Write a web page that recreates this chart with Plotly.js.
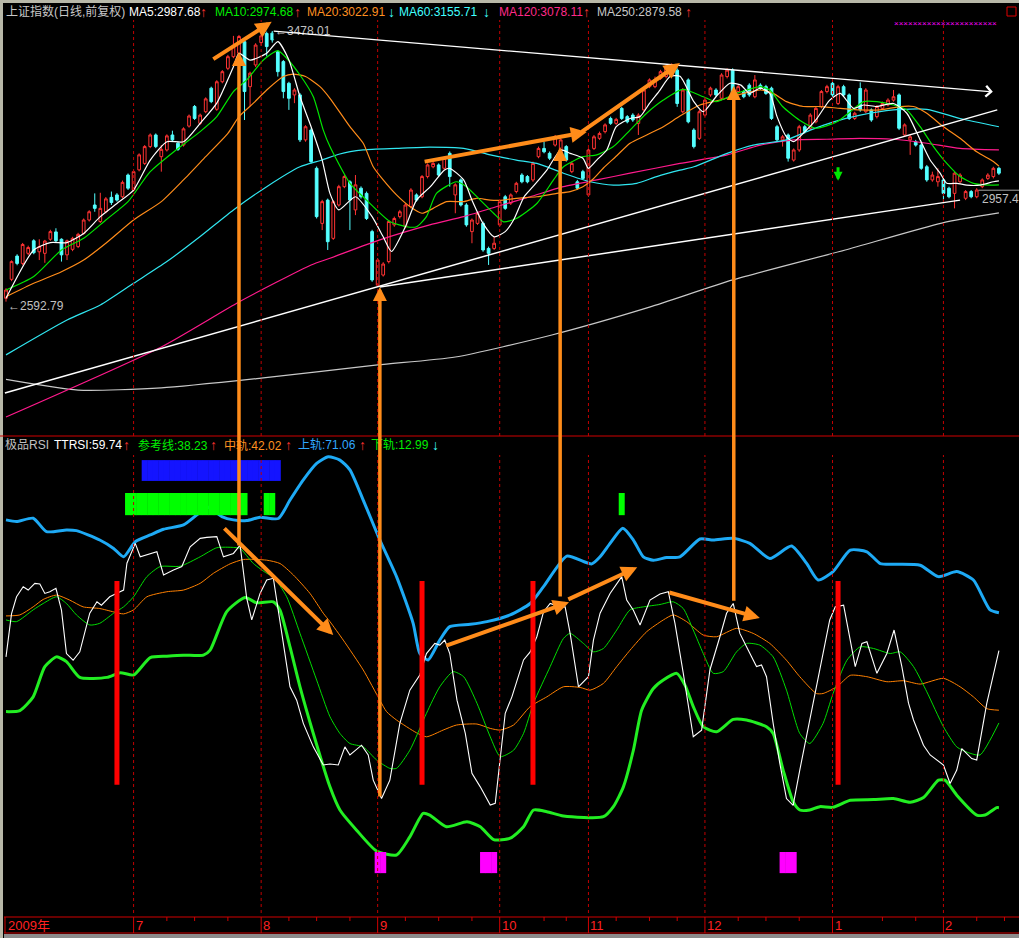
<!DOCTYPE html>
<html><head><meta charset="utf-8">
<script src="https://cdn.plot.ly/plotly-3.0.1.min.js"></script>
<style>html,body{margin:0;padding:0;background:#000;}#chart{width:1019px;height:938px;}</style>
</head><body><div id="chart"></div>
<script>
// ---------- candles (上证指数 daily, index 0 = first bar shown) ----------
const openP = [2604,2666,2742,2718,2751,2792,2756,2751,2797,2821,
2797,2746,2764,2773,2816,2860,2909,2855,2887,2934,
2942,2936,3007,2958,3024,3045,3100,3138,3067,3089,
3138,3111,3105,3167,3231,3176,3214,3291,3222,3312,
3356,3394,3405,3443,3296,3367,3440,3470,3471,3410,
3378,3307,3269,3269,3122,3154,3029,2849,2925,2800,
2909,2969,2985,2893,2964,2947,2822,2647,2680,2724,
2844,2871,2838,2904,2942,2936,3002,3034,3040,3029,
3078,2942,2991,2909,2822,2849,2849,2767,2767,2844,
2936,2915,2953,3007,3002,2991,3067,3094,3078,3105,
3073,3100,3018,2985,3018,2942,3094,3127,3149,3192,
3176,3225,3198,3203,3176,3220,3296,3296,3323,3329,
3334,3350,3214,3318,3154,3127,3203,3269,3285,3258,
3329,3350,3280,3280,3301,3263,3301,3296,3291,3165,
3122,3138,3056,3089,3165,3160,3181,3231,3280,3307,
3241,3296,3269,3192,3290,3214,3220,3198,3225,3236,
3252,3269,3138,3122,3116,3105,3034,2991,2985,2991,
2964,2947,2985,2931,2953,2936,2969,2996,3002,3029];
const highP = [2637,2728,2748,2785,2776,2797,2797,2795,2828,2833,
2800,2796,2805,2818,2865,2892,2947,2949,2935,2953,
2948,2989,3012,3023,3078,3105,3143,3143,3105,3140,
3152,3116,3163,3205,3236,3208,3261,3296,3317,3350,
3400,3462,3465,3450,3345,3438,3468,3476,3478,3415,
3383,3312,3291,3275,3170,3160,3035,2926,2930,2925,
2975,3007,2990,3007,2970,2953,2828,2735,2722,2860,
2871,2893,2915,2964,2947,3007,3045,3051,3045,3067,
3084,2980,2996,2915,2865,2887,2855,2773,2805,2925,
2942,2947,2985,3013,3007,3051,3100,3116,3084,3138,
3127,3105,3051,2991,3024,3094,3138,3149,3176,3198,
3194,3230,3203,3209,3209,3291,3323,3329,3351,3367,
3372,3356,3291,3323,3160,3220,3258,3296,3291,3340,
3356,3356,3302,3285,3307,3334,3307,3302,3296,3171,
3138,3143,3094,3171,3171,3209,3230,3285,3302,3312,
3302,3302,3274,3214,3310,3291,3225,3236,3247,3258,
3285,3274,3176,3138,3122,3111,3040,3018,3029,2996,
2969,3018,3013,2958,2958,2964,2996,3013,3034,3034];
const lowP = [2593,2660,2712,2712,2745,2748,2729,2720,2792,2788,
2724,2729,2758,2768,2812,2855,2887,2850,2882,2909,
2920,2931,2958,2953,3019,3040,3095,3095,3018,3084,
3117,3086,3100,3162,3187,3171,3209,3242,3217,3307,
3350,3389,3400,3187,3231,3360,3430,3395,3440,3329,
3258,3220,3242,3115,3116,3045,2865,2827,2762,2795,
2904,2964,2827,2876,2930,2860,2658,2642,2675,2718,
2838,2865,2833,2898,2920,2931,2996,3029,3002,3024,
2969,2882,2904,2838,2784,2844,2756,2713,2762,2838,
2893,2909,2947,2980,2980,2985,3062,3078,3056,3100,
3067,3051,3013,2958,2991,2936,3089,3122,3143,3171,
3171,3187,3176,3181,3138,3214,3291,3291,3318,3323,
3329,3230,3209,3176,3094,3122,3198,3263,3263,3252,
3323,3269,3274,3258,3263,3258,3285,3269,3187,3116,
3100,3051,3051,3083,3143,3154,3176,3225,3274,3263,
3236,3263,3187,3187,3214,3209,3181,3192,3220,3231,
3247,3154,3132,3073,3100,3024,2985,2985,2969,2915,
2931,2898,2980,2925,2931,2931,2964,2991,2996,3007];
const closeP = [2631,2724,2718,2780,2770,2753,2773,2791,2822,2792,
2746,2792,2800,2813,2860,2887,2898,2898,2929,2917,
2925,2983,2964,3018,3073,3100,3138,3100,3091,3135,
3122,3091,3158,3200,3192,3203,3256,3247,3312,3345,
3394,3427,3460,3280,3340,3432,3462,3427,3449,3345,
3280,3258,3285,3122,3165,3051,2871,2920,2789,2920,
2969,3002,2925,2975,2936,2865,2664,2729,2716,2855,
2865,2887,2909,2958,2925,3002,3040,3045,3007,3062,
3002,2975,2909,2844,2860,2882,2762,2751,2784,2920,
2898,2942,2980,2985,2985,3045,3094,3083,3062,3132,
3122,3056,3045,2964,2996,3089,3132,3143,3171,3176,
3189,3192,3181,3187,3203,3285,3318,3318,3345,3361,
3367,3241,3285,3181,3100,3214,3252,3291,3269,3334,
3350,3274,3296,3263,3269,3318,3291,3274,3192,3122,
3132,3062,3089,3165,3149,3203,3225,3280,3296,3269,
3296,3269,3192,3209,3220,3285,3187,3231,3241,3252,
3263,3160,3171,3132,3105,3029,2991,3007,3002,2947,
2936,3013,3007,2953,2936,2958,2991,3007,3029,3013];

// ---------- moving averages (bar index, value) ----------
const ma5X = [0,5,8,11,14,17,20,23,26,29,32,35,38,41,42,44,47,49,51,53,55,57,58.4,60,63,66,68,69.5,72,74,76.5,79,80,82.5,84,86,88,90,91.5,93.4,95,97.5,100,101.7,104,105,106.5,108.3,110,112.5,114.3,116,117.9,119.7,121.5,124,125.7,128,130.5,132.5,134,136,137.7,139,140.7,142,143.7,146,148.5,150.4,152.8,154.6,157,160,162.4,164.8,166.6,168.4,169.6,171.4,173.2,175.6,178,179];
const ma5Y = [2604,2762,2786,2786,2816,2871,2914,2958,3056,3116,3116,3176,3242,3361,3405,3383,3405,3443,3383,3263,3165,3056,2947,2893,2936,2871,2805,2757,2838,2925,2969,3023,3029,2991,2925,2849,2805,2822,2860,2936,2969,3023,3089,3078,3062,3029,3056,3089,3165,3192,3198,3241,3285,3329,3330,3247,3214,3263,3307,3301,3274,3291,3274,3198,3132,3116,3143,3187,3252,3274,3225,3236,3231,3241,3209,3122,3056,3013,2980,2980,2974,2974,2985,2988];
const ma10X = [0,5,10,14,18,22,26,31,35,38,41,43.4,46.4,49,50.6,53,55.4,57.2,58.4,62,65,69.2,72.2,74,75.8,77.6,81.2,83,85.5,87.9,89.7,92,95.7,98.7,100.5,104,106.5,109.5,112.5,115.5,118.5,122,125.7,128,131.7,136,137.7,140,143,146,149.8,152.2,154.6,157,160,162.4,164.8,167.2,169.6,172,174.4,177.4,179];
const ma10Y = [2631,2675,2762,2800,2860,2920,3018,3094,3149,3198,3280,3318,3383,3414,3389,3334,3263,3154,3100,2980,2925,2855,2838,2838,2871,2947,2985,2969,2925,2882,2854,2865,2914,2991,3034,3067,3073,3100,3154,3209,3252,3287,3263,3247,3274,3296,3285,3231,3187,3160,3181,3214,3247,3247,3236,3220,3165,3100,3045,3002,2980,2974,2975];
const ma20X = [0,5,10,14,18,23,28,32,36,40,42,44.6,47,50,51.8,54,56.6,58.4,62,64.4,66.2,68,70.4,72.8,75,77,79.4,82.4,84.8,87.3,89.7,92,95.7,99.3,101.7,104,105.9,107.7,110.1,112.5,115.5,118.5,121.5,125.1,128.7,133,136,138.3,140.7,143.7,146.7,150.4,154,157.6,161.2,163.6,166,169,172,175,178,179];
const ma20Y = [2609,2653,2691,2729,2784,2860,2920,2991,3067,3143,3198,3242,3285,3329,3337,3329,3296,3258,3165,3111,3034,2991,2942,2904,2882,2898,2920,2920,2931,2925,2925,2931,2936,2947,2953,2969,2995,3030,3070,3111,3138,3165,3200,3236,3252,3274,3285,3274,3247,3231,3231,3225,3220,3220,3231,3231,3209,3165,3127,3083,3051,3036];
const ma60X = [0,11,17,23,29,35,41,47,53,57,60,64.4,70.4,76.4,82.5,87.3,92,95.7,100.5,105.3,109.5,113.7,117.3,121.5,124,130,134.7,140.7,145,149.2,154,160,166,172,179];
const ma60Y = [2419,2533,2582,2653,2724,2806,2893,2969,3034,3056,3075,3089,3094,3098,3094,3073,3056,3045,3013,2985,2974,2980,3002,3023,3034,3078,3105,3122,3154,3181,3203,3220,3222,3192,3165];
const ma120X = [0,28,42,55,58.4,67.4,76.4,82.5,88.5,94.5,100.5,106.5,112.5,121.5,130,136,142,148,154,160,166,172,179];
const ma120Y = [2216,2445,2592,2713,2735,2795,2844,2871,2904,2936,2969,2991,3013,3045,3073,3105,3122,3124,3127,3124,3111,3094,3089];
const ma250X = [0,13,28,46,67,81,98.4,116,131,151.3,168.7,179];
const ma250Y = [2339,2304,2311,2343,2386,2412,2484,2575,2664,2762,2850,2883];

// white trend lines [x0, p0, x1, p1]
const trendA = [-0.2, 2294, 178.7, 3220];
const trendB = [67.4, 2641, 172, 2925];
const trendTop = [48, 3478, 177.9, 3279];

// ---------- 极品RSI panel ----------
const upX = [0,1.9,4.9,7.3,10.9,12.7,16.9,19.4,21.2,23.3,26,28.4,32,34.4,36.2,38.9,41,43.4,45.8,49.1,51.2,53.6,56,58.1,60.2,62,64.4,67.4,70.4,73.4,74.6,76.1,78.2,80,83.7,86.7,90.9,94.5,96.9,101.1,104.1,105.6,107.1,108.9,111.2,113.1,114.9,116.7,119.1,121.5,125.1,127.5,131.1,134.1,137.7,141.6,144.3,146.4,149.1,152.2,155.2,157.6,160.6,164.8,168.1,171.4,174.4,177.4,179];
const upY = [98.7,98.2,99.2,95.2,95.7,95.5,92.7,90.2,87.7,92.2,94.2,95.9,97.2,100.2,102.6,99.7,98.7,98.5,99.5,99.1,104.6,110.6,115.5,117.5,116.5,113.6,104.6,92.7,81.8,67.9,58.9,57,62.9,66.9,67.6,68.4,70.4,73.8,78.8,87.9,86.3,85.6,87.7,91.7,96.2,92.7,87.7,86.7,87.5,87.7,93,92.7,93.2,91.7,87.2,90.9,85.8,80.8,83.3,89.7,89.2,85.7,85.5,85.2,81.8,83.3,80.8,71.9,71.06];
const loX = [0,2.5,4.9,7,9.1,10.9,13.3,18.2,20.6,23,26,29,32,35.6,36.8,39.8,43.1,45.2,48.2,49.4,51.2,53,55.4,58.4,60.2,63.2,66.8,70.4,72.8,75.2,76.4,79.4,83.1,85.5,87.9,90.9,93.3,95.1,97.5,100.5,107.7,109.5,111.3,113.1,114.6,116.7,118.5,120.9,122.4,123.9,125.7,128.1,131.1,133.5,137.1,138.3,140.1,141.9,143.1,144.9,146.7,149.1,152.2,156.4,160,163,165.4,168.1,169.3,171.4,175,176.5,178.6,179];
const loY = [41.6,41.9,46,55,57.9,56.5,51.8,51.8,53.2,52.5,57.7,58.1,58.4,58.4,59.9,71.4,75.6,74,74.3,71.8,60.9,49,35.1,19.2,12.3,6.3,0.1,-1.1,4.3,11.3,10.8,7.3,8.8,7.3,3.5,3.9,7.3,12.3,11.8,10.5,10.3,13.3,19.2,30.1,42.1,48.5,51,53,49.5,43.1,37.1,35.6,39.3,39.1,37.1,35.1,24.2,14.8,12.3,12.3,13.3,13.1,15.2,15.4,15.7,14.6,16,21.2,21.2,16.7,10.8,10.8,13,12.99];
const midX = [0,2.5,4.9,6.7,9.1,11.5,13.9,16.9,19.4,21.2,23,25.4,29,32,35,37.4,40.4,42.8,47,49.4,51.8,54.8,57.2,58.4,60.8,64.4,67.4,68.6,70.4,74,75.8,78.8,81.2,84.9,87.3,89.1,91.5,94.5,97.5,100.5,103.5,105.3,107.7,110.1,112.5,115.5,118.5,120.3,122.7,125.7,128.1,131.7,134.7,137.7,140.7,143.1,146.1,147.3,149.8,152.2,155.2,158.8,161.8,164.8,169,172,174.4,176.8,179];
const midY = [70.1,70.4,72.8,75,76.3,74.8,72.8,72.3,71.3,70.7,71.9,75.8,77.3,77.8,79.8,82.8,85.6,86.9,86.7,85.7,82.3,76.8,70.9,68.4,62.9,54,45,41.6,39.1,35.3,34.1,36.1,37.6,37.9,36.6,36.1,37.6,43.1,46,49,48.8,48,50,55,59.9,65.4,68.9,70.4,68.4,64.4,63.9,66.4,64.9,61.9,56.9,52,47,47,49,52.4,52,50.5,50.8,49.8,51.5,49,46,42.5,42.02];
const refX = [0,1.9,4.9,6.7,9.1,10.9,12.7,15.1,16.9,19.4,21.2,23,25.4,27.8,31.4,35,38,41,42.2,44.6,47,48.2,50.6,53,56,58.4,60.2,62,64.4,66.8,69.2,70.4,72.8,75.8,78.2,80.6,82.5,84.9,87.3,89.1,91.5,93.3,95.1,98.1,100.5,101.7,104.1,105.9,107.7,110.1,112.5,114.9,117.9,120.3,122.1,123.9,125.7,127.5,129.3,131.7,133.5,135.9,138.3,140.7,143.1,144.9,147.3,149.1,151.6,154,156.4,159.4,161.2,163.6,166,169,171.4,173.8,175.6,179];
const refY = [68.9,68.4,71.9,73.8,75.8,73.8,70.4,67.4,67.9,70.9,72.8,75.8,81.8,84.8,84.9,87.7,90.4,90.5,90.2,85.7,82.8,81.8,75.8,64.9,51,40.1,35.1,32.1,31.1,27.2,24.7,24.7,30.1,41.1,49,53.5,52,44.1,34.1,28.2,30.1,35.1,44.1,55,63.4,64.9,61.9,59.4,60.4,65.9,71.9,72.8,73.5,74.3,72.3,65.9,58.9,53,53.5,59.4,61.9,61.4,57.9,48,35.1,32.1,38.1,47,56.9,60.9,60.4,58.9,59.4,55,47.5,37.1,31.1,29.2,28.7,38.23];
const rsiX = [0,1,1.9,3.1,4,5.2,6.1,7,7.9,9,10,10.9,12.1,13.3,15.1,16.4,17.2,18.7,19.9,21.2,21.8,23.3,24.2,27.2,28.4,30.2,31.7,33.2,35,36.2,38,39.2,41,42.2,43.4,44.3,45.8,47,48.2,49.1,50,51.2,52.4,53.6,55.4,57.2,58.4,59.9,61.1,62,64.1,65.3,66.2,67.7,69.2,71,72.8,74.6,75.8,77.3,78.2,79.1,80,81.3,82.8,84,85.5,87.3,88.2,89.1,90,91.2,93.3,94.5,95.7,96.9,98.1,99.9,100.8,101.7,103.2,105,105.9,107.1,108.9,111,111.9,113.1,114.3,116.1,117.9,119.4,120.6,122.1,123.9,125.4,126.9,128.7,129.9,131.1,132.3,133.5,135.3,136.2,137.1,138.3,139.5,140.7,141.9,143.1,144.9,146.7,148.5,149.5,151,153.1,154.3,155.2,157,158.8,160.1,161.5,162.7,163.6,165.4,166.6,169,170.2,171.4,172.3,174.1,175,176.8,179];
const rsiY = [57.9,70.8,75.8,78.8,77.8,79.8,79.6,76.8,77.3,78.3,71.8,58.9,56.9,59.4,70.9,74.3,73.3,75.8,76.8,77.8,85.8,91.7,87.7,89.2,82.3,83.8,84.8,90.7,93.2,93.5,93.7,87.7,88.7,91.2,75.3,68.9,76.8,80.8,81.3,71.8,62.9,49,45,38.1,31.1,25.7,26,25.7,31.1,28.7,31.6,28.7,21.2,15.7,21.2,38.1,48,52.5,58.9,61.9,61.4,62.9,58.9,45,35.1,23.2,19.2,13.8,14.3,27.2,41.1,46,57,59.4,63.9,71.3,73.8,72.8,72.8,64.9,49,52,62.9,70.9,76.8,81.8,74.8,71.8,67.4,74.8,76.6,77.3,67.9,53,34.1,36.1,54,63.9,70.9,73.8,64.9,60.9,55,55.5,52,38.1,26.2,15.7,13.7,24.2,39.1,54,68.9,72.8,73.3,55,61.9,62.4,53,58.9,65.9,55,44.1,39.1,31.6,28.7,25.7,20.2,24.2,30.6,27.6,27.2,44,59.74];

// signal blocks (bar index lists, low/high level)
const redSigIdx = [20,75,95,150];       const redSig = [19.8, 80.5];
const blueSigIdx = [25,26,27,28,29,30,31,32,33,34,35,36,37,38,39,40,41,42,43,44,45,46,47,48,49]; const blueSig = [110.3, 116.5];
const greenSigIdx = [22,23,24,25,26,27,28,29,30,31,32,33,34,35,36,37,38,39,40,41,42,43,47,48,111]; const greenSig = [100.1, 106.7];
const magSigIdx = [67,68,86,87,88,140,141,142]; const magSig = [-6.5, -0.2];

// hand-drawn orange arrows: top panel [tailX, tailP, headX, headP]
const orangeTop = [[37.1,3383,47.9,3508],[75.2,3050,104.7,3148],[103.5,3145,121.5,3373]];
// vertical: [x, headPrice, tailRSI]
const orangeVert = [[42.0,3409,90.6],[67.4,2641,15.9],[99.9,3099,75.4],[131.2,3298,74.2]];
// RSI panel [tailX, tailV, headX, headV]
const orangeBot = [[39.1,96.6,59.0,64.4],[79.1,61.1,101.5,74.2],[101.1,74.8,113.8,84.6],[119.3,77.2,135.9,69.5]];

// axis ticks
const monthIdx = [23,46,67,89,105,126,149,169];
const monthLabels = ['7','8','9','10','11','12','1','2'];
const weekTicks = [29,34,40,51,56,62,72,78,84,97,101,110,116,121,132,137,143,158,164,175,180];

// ---------- geometry ----------
const W = 1019, H = 938;
const X_RANGE = [-1.082, 182.62];
const TOP_RANGE = [2153.7, 3530.3], TOP_PIX = [15, 436];
const BOT_RANGE = [-18.37, 123.38], BOT_PIX = [437, 913];
const PX = x => x / W, PY = y => 1 - y / H;
function rsiToPrice(v) {
  const pix = BOT_PIX[0] + (BOT_RANGE[1] - v) / (BOT_RANGE[1] - BOT_RANGE[0]) * (BOT_PIX[1] - BOT_PIX[0]);
  return TOP_RANGE[1] - (pix - TOP_PIX[0]) / (TOP_PIX[1] - TOP_PIX[0]) * (TOP_RANGE[1] - TOP_RANGE[0]);
}
const idx = openP.map((_, i) => i);

const traces = [];
traces.push({type:'candlestick', x:idx, open:openP, high:highP, low:lowP, close:closeP,
  xaxis:'x', yaxis:'y', whiskerwidth:0, hoverinfo:'skip',
  increasing:{line:{color:'#ff3333', width:1}, fillcolor:'#000000'},
  decreasing:{line:{color:'#54ffff', width:1}, fillcolor:'#54ffff'}});
function line(x, y, color, width, ax, shape) {
  return {type:'scatter', mode:'lines', x:x, y:y, xaxis:'x', yaxis:ax,
    line:{color:color, width:width, shape:shape||'spline', smoothing:0.6}, hoverinfo:'skip'};
}
traces.push(line(ma250X, ma250Y, '#c8c8c8', 1.2, 'y'));
traces.push(line(ma120X, ma120Y, '#ff1a8c', 1.2, 'y'));
traces.push(line(ma60X, ma60Y, '#30e6f0', 1.2, 'y'));
traces.push(line(ma20X, ma20Y, '#ff8c1a', 1.2, 'y'));
traces.push(line(ma10X, ma10Y, '#00e600', 1.2, 'y'));
traces.push(line(ma5X, ma5Y, '#ffffff', 1.2, 'y'));
traces.push(line([trendA[0],trendA[2]], [trendA[1],trendA[3]], '#ffffff', 1.5, 'y', 'linear'));
traces.push(line([trendB[0],trendB[2]], [trendB[1],trendB[3]], '#ffffff', 1.5, 'y', 'linear'));

traces.push(line(upX, upY, '#1eaaf5', 3, 'y2'));
traces.push(line(loX, loY, '#22ee22', 3, 'y2'));
traces.push(line(midX, midY, '#ff8000', 1, 'y2'));
traces.push(line(refX, refY, '#00dd00', 1, 'y2'));
traces.push(line(rsiX, rsiY, '#ffffff', 1.1, 'y2', 'linear'));

function sig(ix, lvl, color, w) {
  return {type:'bar', x:ix, y:ix.map(() => lvl[1] - lvl[0]), base:lvl[0], width:w,
    marker:{color:color, line:{width:0}}, xaxis:'x', yaxis:'y3', hoverinfo:'skip'};
}
traces.push(sig(blueSigIdx, blueSig, '#1414ff', 1.08));
traces.push(sig(greenSigIdx, greenSig, '#00ff00', 1.08));
traces.push(sig(magSigIdx, magSig, '#ff00ff', 1.08));
traces.push(sig(redSigIdx, redSig, '#ff0000', 0.9));

// ---------- shapes ----------
const shapes = [];
shapes.push({type:'rect', xref:'paper', yref:'paper', x0:0, x1:PX(3), y0:0, y1:1, fillcolor:'#b8b8a8', line:{width:0}});
shapes.push({type:'rect', xref:'paper', yref:'paper', x0:0, x1:1, y0:PY(3), y1:1, fillcolor:'#b8b8a8', line:{width:0}});
shapes.push({type:'line', xref:'paper', yref:'paper', x0:0, x1:1, y0:PY(436), y1:PY(436), line:{color:'#d00000', width:1}});
monthIdx.forEach(m => {
  shapes.push({type:'line', xref:'x', yref:'paper', x0:m, x1:m, y0:PY(436), y1:PY(20), line:{color:'#c00000', width:1, dash:'dot'}});
  shapes.push({type:'line', xref:'x', yref:'paper', x0:m, x1:m, y0:PY(913), y1:PY(455), line:{color:'#c00000', width:1, dash:'dot'}});
  shapes.push({type:'line', xref:'x', yref:'paper', x0:m, x1:m, y0:PY(933), y1:PY(917), line:{color:'#d00000', width:1}});
});
weekTicks.forEach(t => shapes.push({type:'line', xref:'x', yref:'paper', x0:t, x1:t, y0:PY(921), y1:PY(917), line:{color:'#d00000', width:1}}));
shapes.push({type:'line', xref:'paper', yref:'paper', x0:PX(4), x1:1, y0:PY(917), y1:PY(917), line:{color:'#d00000', width:1}});
shapes.push({type:'line', xref:'paper', yref:'paper', x0:PX(4), x1:1, y0:PY(933), y1:PY(933), line:{color:'#d00000', width:1}});
shapes.push({type:'line', xref:'paper', yref:'paper', x0:PX(5), x1:PX(5), y0:PY(933), y1:PY(917), line:{color:'#d00000', width:1}});
shapes.push({type:'rect', xref:'paper', yref:'paper', x0:PX(4), x1:1, y0:0, y1:PY(934), fillcolor:'#8c8c8c', line:{width:0}});
shapes.push({type:'rect', xref:'paper', yref:'paper', x0:PX(1007), x1:PX(1016), y0:PY(16), y1:PY(7), line:{color:'#e00000', width:1}});
shapes.push({type:'line', xref:'x', yref:'y', x0:175.3, x1:X_RANGE[1], y0:2957.4, y1:2957.4, line:{color:'#a0a0a0', width:1}});

// ---------- annotations ----------
const ann = [];
function txt(t, xp, yp, color, size) {
  ann.push({text:t, xref:'paper', yref:'paper', x:PX(xp), y:PY(yp), xanchor:'left', yanchor:'middle',
    showarrow:false, font:{color:color, size:size||12}});
}
txt('上证指数(日线,前复权)', 4, 12, '#c8c8c8');
txt('MA5:2987.68', 127, 12, '#ffffff'); txt('↑', 198, 12, '#ff3030', 14);
txt('MA10:2974.68', 213, 12, '#00ee00'); txt('↑', 292, 12, '#ff3030', 14);
txt('MA20:3022.91', 305, 12, '#ff9020'); txt('↓', 386, 12, '#40ffff', 14);
txt('MA60:3155.71', 397, 12, '#40ffff'); txt('↓', 481, 12, '#40ffff', 14);
txt('MA120:3078.11', 497, 12, '#ff2a8a'); txt('↑', 581, 12, '#ff3030', 14);
txt('MA250:2879.58', 595, 12, '#c8c8c8'); txt('↑', 683, 12, '#ff3030', 14);
txt('××××××××××××××××××××××', 892, 23, '#ff00ff', 8);

txt('极品RSI', 3, 445, '#c0c0c0');
txt('TTRSI:59.74', 52, 445, '#ffffff'); txt('↑', 121, 445, '#ff3030', 14);
txt('参考线:38.23', 136, 445, '#00ee00'); txt('↑', 208, 445, '#ff3030', 14);
txt('中轨:42.02', 222, 445, '#ff9020'); txt('↑', 283, 445, '#ff3030', 14);
txt('上轨:71.06', 296, 445, '#30a8ff'); txt('↑', 357, 445, '#ff3030', 14);
txt('下轨:12.99', 369, 445, '#00ee00'); txt('↓', 430, 445, '#40ffff', 14);

ann.push({text:'2009年', xref:'x', yref:'paper', x:0, y:PY(925), xanchor:'left', yanchor:'middle', showarrow:false, font:{color:'#ff2020', size:13}});
monthIdx.forEach((m, k) => ann.push({text:monthLabels[k], xref:'x', yref:'paper', x:m, y:PY(925), xanchor:'left', yanchor:'middle', showarrow:false, font:{color:'#ff2020', size:13}}));

ann.push({text:'←2592.79', xref:'x', yref:'y', x:0, y:2592.79, xanchor:'left', yanchor:'middle', yshift:-4, showarrow:false, font:{color:'#c0c0c0', size:12}});
ann.push({text:'←3478.01', xref:'x', yref:'y', x:48.2, y:3478.01, xanchor:'left', yanchor:'middle', showarrow:false, bgcolor:'#000000', font:{color:'#c0c0c0', size:12}});
ann.push({text:'2957.4', xref:'x', yref:'y', x:175.6, y:2957.4, xanchor:'left', yanchor:'top', showarrow:false, font:{color:'#c0c0c0', size:12}});

// top white trendline with arrowhead
ann.push({text:'', xref:'x', yref:'y', axref:'x', ayref:'y', x:trendTop[2], y:trendTop[3], ax:trendTop[0], ay:trendTop[1],
  showarrow:true, arrowhead:4, arrowsize:1.6, arrowwidth:1.3, arrowcolor:'#ffffff'});
// green signal arrow
ann.push({text:'', xref:'x', yref:'y', x:150, y:2988, ax:0, ay:-15, showarrow:true, arrowhead:2, arrowsize:0.6, arrowwidth:3, arrowcolor:'#00e600'});

const OR = '#ff8c1a';
orangeTop.forEach(a => ann.push({text:'', xref:'x', yref:'y', axref:'x', ayref:'y', ax:a[0], ay:a[1], x:a[2], y:a[3],
  showarrow:true, arrowhead:2, arrowsize:0.8, arrowwidth:4, arrowcolor:OR}));
orangeVert.forEach(a => ann.push({text:'', xref:'x', yref:'y', axref:'x', ayref:'y', ax:a[0], ay:rsiToPrice(a[2]), x:a[0], y:a[1],
  showarrow:true, arrowhead:2, arrowsize:0.8, arrowwidth:3.5, arrowcolor:OR}));
orangeBot.forEach(a => ann.push({text:'', xref:'x', yref:'y2', axref:'x', ayref:'y2', ax:a[0], ay:a[1], x:a[2], y:a[3],
  showarrow:true, arrowhead:2, arrowsize:0.8, arrowwidth:4, arrowcolor:OR}));

const layout = {
  width:W, height:H, margin:{l:0, r:0, t:0, b:0, pad:0},
  paper_bgcolor:'#000000', plot_bgcolor:'#000000', showlegend:false, barmode:'overlay',
  font:{family:'Liberation Sans, Arial, Noto Sans CJK SC, sans-serif', size:12, color:'#ffffff'},
  xaxis:{range:X_RANGE, showgrid:false, zeroline:false, showticklabels:false, ticks:'', showline:false, rangeslider:{visible:false}, fixedrange:true},
  yaxis:{domain:[1 - TOP_PIX[1]/H, 1 - TOP_PIX[0]/H], range:TOP_RANGE, showgrid:false, zeroline:false, showticklabels:false, ticks:'', showline:false, fixedrange:true},
  yaxis2:{domain:[1 - BOT_PIX[1]/H, 1 - BOT_PIX[0]/H], range:BOT_RANGE, anchor:'x', showgrid:false, zeroline:false, showticklabels:false, ticks:'', showline:false, fixedrange:true},
  yaxis3:{overlaying:'y2', range:BOT_RANGE, anchor:'x', showgrid:false, zeroline:false, showticklabels:false, ticks:'', showline:false, fixedrange:true},
  shapes:shapes, annotations:ann
};
Plotly.newPlot('chart', traces, layout, {displayModeBar:false, staticPlot:true});
</script></body></html>
